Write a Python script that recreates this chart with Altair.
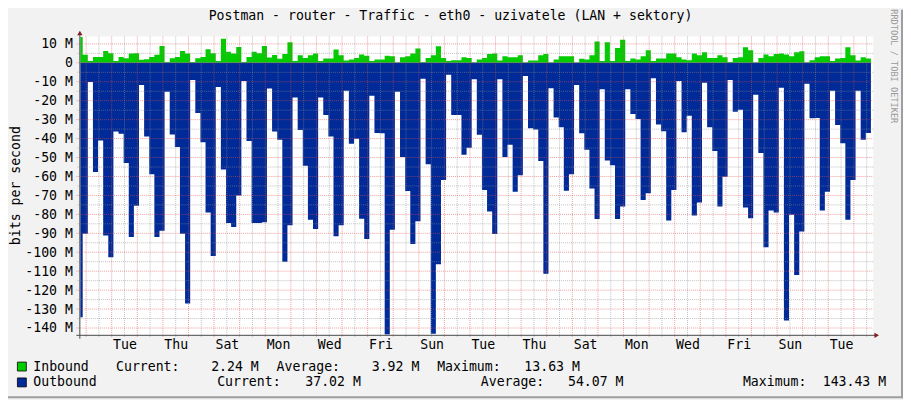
import altair as alt
import pandas as pd

MONO = "DejaVu Sans Mono"
TITLE = "Postman - router - Traffic - eth0 - uzivatele (LAN + sektory)"
Y_TITLE = "bits per second"
CREDIT = "RRDTOOL / TOBI OETIKER"

# time axis: hours relative to the first Monday 00:00, one value per 4.8 h step
STEP_HOURS = 4.8
FIRST_STEP_START = -8.0
X_START, X_END = -5.4, 738.2
Y_MIN, Y_MAX = -143.6, 13.9          # Mbit/s

# Inbound traffic, Mbit/s
inbound = [
    13.63, 4.2, 1.0, 3.1, 3.1, 6.3, 5.1, 1.0, 3.1, 2.4,
    4.9, 5.1, 1.6, 1.9, 3.1, 4.2, 8.9, 0.5, 2.4, 3.1,
    6.3, 4.9, 0.5, 2.4, 3.1, 7.2, 5.1, 1.0, 12.7, 5.8,
    4.9, 8.4, 0.5, 3.1, 5.8, 5.1, 8.9, 2.8, 4.1, 2.2,
    4.6, 10.9, 1.0, 4.0, 2.6, 4.0, 4.9, 0.9, 2.3, 2.3,
    7.0, 4.0, 1.2, 1.7, 2.6, 4.4, 3.8, 0.9, 1.7, 1.7,
    3.8, 3.5, 0.3, 3.0, 3.5, 4.9, 7.5, 0.5, 2.6, 4.0,
    8.7, 2.6, 0.9, 1.4, 1.4, 3.0, 2.6, 0.3, 1.7, 2.6,
    4.7, 4.9, 1.2, 3.5, 3.0, 3.0, 4.0, 0.3, 1.2, 1.2,
    4.0, 4.7, 0.3, 1.7, 3.5, 3.5, 3.5, 0.3, 2.1, 1.7,
    4.0, 11.3, 0.9, 10.8, 0.9, 7.8, 12.2, 0.9, 2.3, 1.7,
    3.5, 6.6, 0.9, 2.3, 2.3, 4.9, 4.9, 3.0, 1.7, 1.4,
    4.9, 4.0, 5.6, 2.6, 2.6, 4.0, 3.0, 0.5, 2.6, 3.0,
    8.2, 6.6, 0.3, 2.6, 4.4, 3.5, 4.7, 4.9, 4.4, 3.5,
    5.6, 6.1, 0.3, 1.4, 3.0, 3.5, 3.5, 0.9, 2.3, 2.6,
    8.2, 4.0, 1.2, 3.0, 2.24,
]

# Outbound traffic, Mbit/s (drawn below zero)
outbound = [
    134.3, 90.2, 10.1, 57.6, 41.0, 91.1, 102.6, 36.3, 37.5, 52.9,
    91.9, 75.4, 11.7, 38.9, 58.8, 91.9, 88.6, 15.3, 37.9, 44.5,
    90.2, 127.0, 9.1, 26.5, 41.9, 79.0, 102.0, 12.7, 56.3, 84.6,
    86.7, 70.1, 9.6, 41.3, 84.6, 84.6, 84.2, 13.6, 36.3, 40.6,
    105.0, 85.8, 18.3, 35.4, 54.4, 82.9, 87.7, 18.3, 27.6, 38.9,
    91.6, 85.8, 14.8, 42.7, 40.1, 82.3, 93.0, 17.4, 37.0, 37.2,
    143.43, 88.1, 15.3, 49.7, 67.7, 95.6, 83.7, 8.4, 53.5, 143.0,
    106.4, 61.9, 6.3, 27.6, 27.6, 48.5, 44.8, 8.7, 38.0, 67.2,
    78.5, 90.4, 8.7, 49.7, 43.3, 68.0, 59.3, 7.0, 34.5, 35.2,
    51.8, 111.3, 13.4, 28.8, 34.0, 67.5, 58.8, 11.7, 37.2, 45.9,
    66.3, 82.5, 14.0, 51.5, 54.1, 82.5, 75.9, 14.0, 27.0, 29.7,
    72.4, 68.9, 8.2, 32.6, 36.1, 83.2, 67.2, 9.6, 36.6, 27.9,
    80.6, 73.8, 10.5, 34.0, 46.6, 75.9, 60.2, 9.1, 25.8, 24.8,
    76.4, 82.0, 16.9, 47.6, 97.3, 78.0, 79.0, 13.1, 136.1, 80.2,
    112.0, 89.0, 11.0, 29.3, 29.1, 78.0, 68.0, 14.8, 32.8, 42.4,
    82.9, 61.9, 14.8, 40.6, 37.02,
]

day_names = ["Mon", "Tue", "Wed", "Thu", "Fri", "Sat", "Sun"]
label_hours = [36 + 48 * i for i in range(15)]          # noon of every other day
y_ticks = list(range(-140, 11, 10))
y_minor = list(range(-135, 6, 10))
day_lines = [24 * d for d in range(31)]
half_day_lines = [12 + 24 * d for d in range(31)]

legend_names = ["Inbound", "Outbound"]
legend_colors = ["#00CC00", "#002A97"]
stat_labels = ["Current:", "Average:", "Maximum:"]
inbound_stats = ["2.24 M", "3.92 M", "13.63 M"]
outbound_stats = ["37.02 M", "54.07 M", "143.43 M"]

# ---------------------------------------------------------------- data table
n = len(inbound)
times = [FIRST_STEP_START + STEP_HOURS * i for i in range(n + 1)]
df = pd.DataFrame({
    "t": times,
    "inbound": inbound + [inbound[-1]],
    "outbound": [-v for v in outbound] + [-outbound[-1]],
})

xs = alt.Scale(domain=[X_START, X_END], nice=False, zero=False)
ys = alt.Scale(domain=[Y_MIN, Y_MAX], nice=False, zero=False)

day_expr = "[" + ",".join("'%s'" % d for d in day_names) + "][floor(datum.value / 24) % 7]"

x_axis = alt.Axis(values=label_hours, labelExpr=day_expr, title=None, domain=False,
                  ticks=False, grid=False, labelFont=MONO, labelFontSize=13.3,
                  labelColor="#000000", labelPadding=3, labelOverlap=False)
y_axis = alt.Axis(values=y_ticks, labelExpr="datum.value == 0 ? '0' : datum.value + ' M'",
                  title=None, domain=False, ticks=False, grid=False, labelFont=MONO,
                  labelFontSize=13.3, labelColor="#000000", labelPadding=8,
                  labelOverlap=False, labelSeparation=0)


def X(field):
    return alt.X(field, type="quantitative", scale=xs, axis=x_axis)


def Y(field):
    return alt.Y(field, type="quantitative", scale=ys, axis=y_axis, stack=None)


base = alt.Chart(df)
inb = base.mark_area(interpolate="step-after", color="#00CC00", clip=True).encode(
    x=X("t"), y=Y("inbound"), y2=alt.datum(0))
outb = base.mark_area(interpolate="step-after", color="#002A97", clip=True).encode(
    x=X("t"), y=Y("outbound"), y2=alt.datum(0))

GRID = "rgb(143,143,143)"
MGRID = "rgb(222,79,79)"

vminor = alt.Chart(pd.DataFrame({"h": half_day_lines})).mark_rule(
    color=GRID, strokeOpacity=0.55, strokeDash=[1, 1], strokeWidth=1).encode(
    x=X("h"), y=alt.value(0), y2=alt.value(303))
hminor = alt.Chart(pd.DataFrame({"v": y_minor})).mark_rule(
    color=GRID, strokeOpacity=0.55, strokeDash=[1, 1], strokeWidth=1).encode(
    y=Y("v"), x=alt.value(-3), x2=alt.value(800))
vmajor = alt.Chart(pd.DataFrame({"h": day_lines})).mark_rule(
    color=MGRID, strokeOpacity=0.55, strokeDash=[1, 1], strokeWidth=1).encode(
    x=X("h"), y=alt.value(0), y2=alt.value(304))
hmajor = alt.Chart(pd.DataFrame({"v": y_ticks})).mark_rule(
    color=MGRID, strokeOpacity=0.55, strokeDash=[1, 1], strokeWidth=1).encode(
    y=Y("v"), x=alt.value(-4), x2=alt.value(800))

one = pd.DataFrame({"_": [0]})
AXIS = "#4a4a4a"
ARROW = "#801F1F"
x_line = alt.Chart(one).mark_rule(color=AXIS, strokeWidth=1).encode(
    x=alt.value(-4), x2=alt.value(802), y=alt.value(301.5))
y_line = alt.Chart(one).mark_rule(color=AXIS, strokeWidth=1).encode(
    x=alt.value(-0.5), y=alt.value(-2), y2=alt.value(305))
arrow_up = alt.Chart(one).mark_point(shape="triangle-up", filled=True, color=ARROW,
                                     size=28, opacity=1).encode(
    x=alt.value(-0.5), y=alt.value(-3.5))
arrow_right = alt.Chart(one).mark_point(shape="triangle-right", filled=True, color=ARROW,
                                        size=28, opacity=1).encode(
    x=alt.value(803.5), y=alt.value(301.5))


def txt(s, x, y, align="left", size=13.3, color="#000000", angle=0):
    return alt.Chart(one).mark_text(text=s, font=MONO, fontSize=size, align=align,
                                    baseline="middle", color=color, angle=angle).encode(
        x=alt.value(x), y=alt.value(y))


title = txt(TITLE, 373.5, -21, align="center")
ytitle = txt(Y_TITLE, -65, 150.5, align="center", angle=270)
credit = txt(CREDIT, 821, 30, align="center", size=8.7, color="#9a9a9a", angle=90)

sw_in = alt.Chart(one).mark_rect(color=legend_colors[0], stroke="#000000", strokeWidth=0.8).encode(
    x=alt.value(-63.5), x2=alt.value(-54.5), y=alt.value(328.5), y2=alt.value(337.5))
sw_out = alt.Chart(one).mark_rect(color=legend_colors[1], stroke="#000000", strokeWidth=0.8).encode(
    x=alt.value(-63.5), x2=alt.value(-54.5), y=alt.value(344.5), y2=alt.value(353.5))

r1, r2 = 333.3, 348.3
legend_texts = [
    txt(legend_names[0], -47.5, r1),
    txt(stat_labels[0], 36, r1), txt(inbound_stats[0], 180, r1, "right"),
    txt(stat_labels[1], 198, r1), txt(inbound_stats[1], 342, r1, "right"),
    txt(stat_labels[2], 360, r1), txt(inbound_stats[2], 504, r1, "right"),
    txt(legend_names[1], -47.5, r2),
    txt(stat_labels[0], 138, r2), txt(outbound_stats[0], 283, r2, "right"),
    txt(stat_labels[1], 404, r2), txt(outbound_stats[1], 548, r2, "right"),
    txt(stat_labels[2], 668.5, r2), txt(outbound_stats[2], 813, r2, "right"),
]

frame_b = alt.Chart(one).mark_rule(color="#9E9E9E", strokeWidth=2).encode(
    x=alt.value(-73), x2=alt.value(830), y=alt.value(364))
frame_r = alt.Chart(one).mark_rule(color="#9E9E9E", strokeWidth=2).encode(
    x=alt.value(829), y=alt.value(-27), y2=alt.value(365))

chart = alt.layer(
    inb, outb, vminor, hminor, vmajor, hmajor, x_line, y_line, arrow_up, arrow_right,
    title, ytitle, credit, sw_in, sw_out, *legend_texts, frame_b, frame_r,
).properties(
    width=800, height=301, background="#F2F2F2",
    padding={"left": 73, "top": 27, "right": 30, "bottom": 64},
    autosize=alt.AutoSizeParams(type="none"),
).configure_view(fill="white", stroke=None)

chart.save("out.html", embed_options={"renderer": "svg", "actions": False})
